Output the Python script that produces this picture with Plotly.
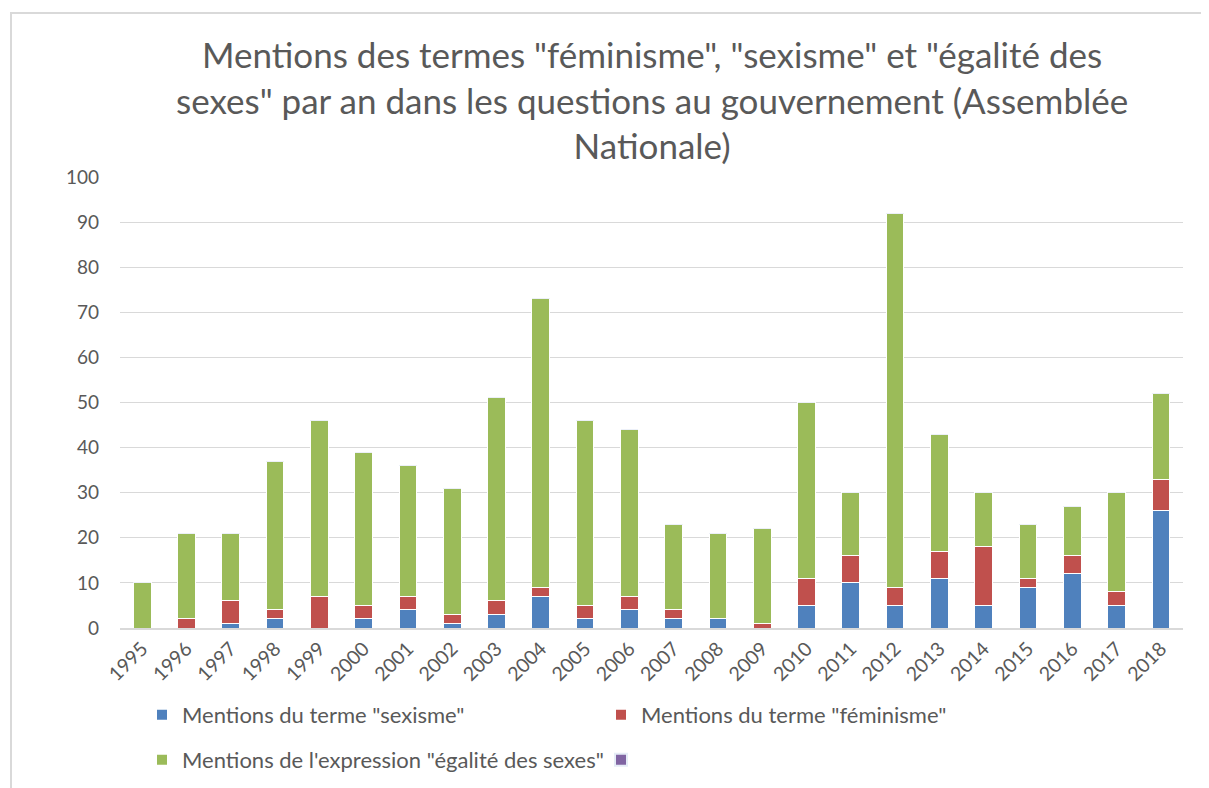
import plotly.graph_objects as go

years = [str(y) for y in range(1995, 2019)]
sexisme = [0, 0, 1, 2, 0, 2, 4, 1, 3, 7, 2, 4, 2, 2, 0, 5, 10, 5, 11, 5, 9, 12, 5, 26]
feminisme = [0, 2, 5, 2, 7, 3, 3, 2, 3, 2, 3, 3, 2, 0, 1, 6, 6, 4, 6, 13, 2, 4, 3, 7]
egalite = [10, 19, 15, 33, 39, 34, 29, 28, 45, 64, 41, 37, 19, 19, 21, 39, 14, 83, 26, 12, 12, 11, 22, 19]

title_lines = [
    'Mentions des termes "féminisme", "sexisme" et "égalité des',
    'sexes" par an dans les questions au gouvernement (Assemblée',
    'Nationale)',
]

FONT = "Lato, 'Open Sans', sans-serif"
GREY = "#595959"

# figure geometry (page has an 8px body margin)
W, H = 1201, 780
L, T, PW, PH = 112, 169, 1063, 451

fig = go.Figure()
fig.add_trace(go.Bar(x=years, y=sexisme, name='Mentions du terme "sexisme"', legend="legend",
                     marker=dict(color="#4f81bd", line=dict(color="white", width=1))))
fig.add_trace(go.Bar(x=years, y=feminisme, name='Mentions du terme "féminisme"', legend="legend",
                     marker=dict(color="#c0504d", line=dict(color="white", width=1))))
fig.add_trace(go.Bar(x=years, y=egalite, name='Mentions de l\'expression "égalité des sexes"',
                     legend="legend2",
                     marker=dict(color="#9bbb59", line=dict(color="white", width=1))))
fig.add_trace(go.Bar(x=years, y=[0] * len(years), name=" ", legend="legend2",
                     marker=dict(color="#8064a2")))

def px_y(py):
    return 1 - (py - T) / PH

def px_x(px):
    return (px - L) / PW

leg_common = dict(orientation="h", xanchor="left", yanchor="middle",
                  entrywidth=414, entrywidthmode="pixels", traceorder="normal",
                  font=dict(size=22, color=GREY, family=FONT), itemsizing="constant",
                  bgcolor="rgba(0,0,0,0)")

fig.update_layout(
    barmode="stack",
    bargap=0.6,
    width=W, height=H,
    paper_bgcolor="white", plot_bgcolor="white",
    font=dict(family=FONT, color=GREY, size=19),
    margin=dict(l=L, r=W - L - PW, t=T, b=H - T - PH, autoexpand=False),
    xaxis=dict(tickangle=-45, showgrid=False, showline=True, linecolor="#d9d9d9", linewidth=1.5,
               tickfont=dict(size=19.5, color=GREY), ticks="", automargin=False),
    yaxis=dict(range=[0, 100], dtick=10, showgrid=True, gridcolor="#d9d9d9",
               zeroline=False, tickfont=dict(size=19, color=GREY), ticks="",
               ticklabelstandoff=20, automargin=False),
    legend=dict(x=px_x(134), y=px_y(707), **leg_common),
    legend2=dict(x=px_x(134), y=px_y(752), **leg_common),
    showlegend=True,
    annotations=[dict(text="<br>".join(title_lines), xref="paper", yref="paper",
                      x=0.5, y=px_y(91), xanchor="center", yanchor="middle",
                      showarrow=False, font=dict(family=FONT, size=35, color=GREY))],
    shapes=[dict(type="rect", xref="paper", yref="paper",
                 x0=px_x(3), x1=px_x(1260), y0=px_y(900), y1=px_y(5),
                 line=dict(color="#d9d9d9", width=2), layer="below")],
)

fig.write_html("out.html")
